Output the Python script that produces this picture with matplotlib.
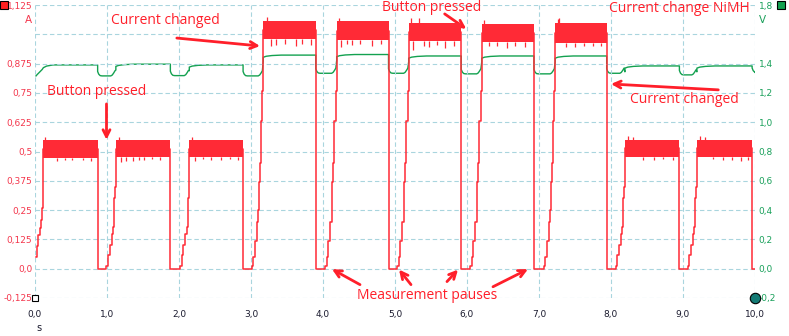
import numpy as np
import matplotlib
matplotlib.use("Agg")
import matplotlib.pyplot as plt

# ---- measured data -------------------------------------------------------
# time of each current drop (start of a measurement pause), s
drop_t = [0.87, 1.88, 2.89, 3.90, 4.91, 5.92, 6.93, 7.94, 8.95, 9.96]
# time the current starts to flow again after each pause, s
resume_t = [0.97, 1.99, 2.985, 4.005, 5.005, 6.02, 7.04, 8.04, 9.04]
# charge mode of each on-segment: low (~0.5 A) or high (~1.0 A)
seg_mode = ["low", "low", "low", "high", "high", "high", "high", "high", "low", "low"]
# noisy current band of each on-segment, A
band_top = [0.547, 0.547, 0.547, 1.055, 1.055, 1.050, 1.045, 1.047, 0.550, 0.550]
band_bot = [0.474, 0.478, 0.476, 0.978, 0.977, 0.972, 0.966, 0.964, 0.477, 0.477]

# current start-up at t = 0
start_t = [0.014, 0.023, 0.046, 0.069, 0.079, 0.093, 0.107, 0.116]
start_i = [0.052, 0.095, 0.145, 0.173, 0.209, 0.259, 0.400, 0.510]

# current ramp after a pause (time after resume, A)
low_ramp_dt = [0.0, 0.023, 0.046, 0.070, 0.093, 0.116, 0.130, 0.142, 0.153]
low_ramp_i = [0.0, 0.010, 0.060, 0.100, 0.150, 0.180, 0.300, 0.350, 0.510]
high_ramp_dt = [0.0, 0.025, 0.045, 0.065, 0.095, 0.115, 0.125, 0.135, 0.150, 0.170, 0.185]
high_ramp_i = [0.0, 0.010, 0.050, 0.120, 0.200, 0.250, 0.370, 0.450, 0.630, 0.760, 1.015]

# cell voltage: plateau during each on-segment and minimum in each pause, V
volt_plateau = [1.391, 1.396, 1.391, 1.458, 1.462, 1.452, 1.452, 1.452, 1.384, 1.384]
volt_dip = [1.316, 1.318, 1.316, 1.334, 1.334, 1.330, 1.330, 1.334, 1.323, 1.340]
volt_start_t = [0.014, 0.03, 0.07, 0.10, 0.116, 0.16, 0.25]
volt_start_v = [1.316, 1.325, 1.345, 1.360, 1.372, 1.383, 1.391]

# single spikes on the current band (time, A)
spike_t = [0.14, 0.30, 0.41, 0.52, 0.66, 0.78,
           1.16, 1.20, 1.27, 1.36, 1.45, 1.52, 1.63, 1.74,
           2.18, 2.22, 2.33, 2.45, 2.58, 2.71, 2.82,
           3.22, 3.28, 3.35, 3.47, 3.62, 3.71, 3.83,
           4.22, 4.25, 4.33, 4.40, 4.52, 4.68, 4.80,
           5.22, 5.25, 5.33, 5.40, 5.47, 5.58, 5.70, 5.82,
           6.24, 6.30, 6.42, 6.55, 6.66, 6.80,
           7.26, 7.28, 7.37, 7.50, 7.62, 7.75, 7.86,
           8.24, 8.30, 8.45, 8.60, 8.72, 8.86,
           9.24, 9.30, 9.42, 9.55, 9.68, 9.80, 9.90]
spike_v = [0.560, 0.460, 0.463, 0.462, 0.465, 0.461,
           0.562, 0.455, 0.458, 0.460, 0.463, 0.462, 0.466, 0.464,
           0.560, 0.458, 0.466, 0.462, 0.463, 0.466, 0.464,
           1.072, 0.948, 0.955, 0.958, 0.950, 0.960, 0.956,
           1.070, 0.945, 0.958, 0.955, 0.960, 0.952, 0.957,
           1.068, 0.935, 1.070, 0.950, 0.945, 0.955, 0.940, 0.952,
           1.062, 0.950, 0.948, 0.940, 0.952, 0.945,
           1.065, 1.070, 0.945, 0.945, 0.950, 0.948, 0.952,
           0.565, 0.560, 0.465, 0.462, 0.466, 0.463,
           0.565, 0.562, 0.466, 0.462, 0.465, 0.460, 0.464]

x_ticks = np.arange(0, 11, 1.0)
x_labels = ["0,0", "1,0", "2,0", "3,0", "4,0", "5,0", "6,0", "7,0", "8,0", "9,0", "10,0"]
a_ticks = np.arange(-0.125, 1.126, 0.125)
a_labels = ["-0,125", "0,0", "0,125", "0,25", "0,375", "0,5", "0,625", "0,75", "0,875",
            "", "1,125"]
v_ticks = np.arange(-0.2, 1.81, 0.2)
v_labels = ["-0,2", "0,0", "0,2", "0,4", "0,6", "0,8", "1,0", "1,2", "1,4", "", "1,8"]

RED = "#ff2a36"
GREEN = "#13a150"
TXT_RED = "#ff1f2a"
GRID = "#a9d5de"

# ---- build the traces ----------------------------------------------------
cur_t, cur_i = list(start_t), list(start_i)
seg_start = [start_t[-1]]
for k, r in enumerate(resume_t):
    mode = seg_mode[k + 1]
    dts = low_ramp_dt if mode == "low" else high_ramp_dt
    seg_start.append(r + dts[-1])

bands = []
for k in range(len(drop_t)):
    mid = 0.5 * (band_top[k] + band_bot[k])
    cur_t += [seg_start[k], drop_t[k], drop_t[k]]
    cur_i += [mid, mid, 0.0]
    bands.append((seg_start[k], drop_t[k]))
    if k < len(resume_t):
        mode = seg_mode[k + 1]
        dts = low_ramp_dt if mode == "low" else high_ramp_dt
        vals = low_ramp_i if mode == "low" else high_ramp_i
        for dt, v in zip(dts[:-1], vals[:-1]):
            cur_t.append(resume_t[k] + dt)
            cur_i.append(v)
cur_t.append(10.0)
cur_i.append(0.0)

volt_t, volt_v = list(volt_start_t), list(volt_start_v)
for k in range(len(drop_t)):
    d, p, m = drop_t[k], volt_plateau[k], volt_dip[k]
    volt_t += [d, d, d + 0.015, d + 0.035, d + 0.06]
    volt_v += [p, m + 0.03, m + 0.012, m + 0.002, m]
    if k + 1 < len(drop_t):
        b, n = seg_start[k + 1], volt_plateau[k + 1]
        volt_t += [b - 0.07, b - 0.05, b - 0.03, b - 0.012, b, b, b + 0.04, b + 0.12, b + 0.25]
        volt_v += [m, m + 0.006, m + 0.02, m + 0.035, n - 0.04, n - 0.015, n - 0.008,
                   n - 0.003, n]
volt_t.append(10.0)
volt_v.append(volt_dip[-1])

# ---- figure ----------------------------------------------------------------
fig = plt.figure(figsize=(7.89, 3.36), dpi=100)
ax = fig.add_axes([35 / 789, 1 - 298 / 336, 720 / 789, 293 / 336])
ax2 = ax.twinx()
ax.set_zorder(ax2.get_zorder() + 1)
ax.patch.set_visible(False)

ax.set_xlim(0, 10)
ax.set_ylim(-0.125, 1.125)
ax2.set_ylim(-0.2, 1.8)

for a in (ax, ax2):
    for s in a.spines.values():
        s.set_visible(False)

ax.set_xticks(x_ticks)
ax.set_xticklabels(x_labels)
ax.set_yticks(a_ticks)
ax.set_yticklabels(a_labels)
ax2.set_yticks(v_ticks)
ax2.set_yticklabels(v_labels)
ax.tick_params(axis="x", length=0, pad=9, labelsize=6.5, labelcolor="#1a1a2e")
ax.tick_params(axis="y", length=0, pad=2, labelsize=6.5, labelcolor="#f4364c")
ax2.tick_params(axis="y", length=0, pad=2.5, labelsize=6.5, labelcolor="#19a05a")
ax.grid(True, color=GRID, linestyle=(0, (4, 2.5)), linewidth=0.8)
ax.set_axisbelow(True)

# voltage trace
ax2.plot(volt_t, volt_v, color=GREEN, lw=1.0, zorder=3)

# current trace
ax.plot(cur_t, cur_i, color=RED, lw=1.1, zorder=4, drawstyle="steps-post")
for k, (t0, t1) in enumerate(bands):
    ax.fill_between([t0, t1], band_bot[k], band_top[k], color=RED, lw=0, zorder=4)
for t, v in zip(spike_t, spike_v):
    k = next(i for i, (t0, t1) in enumerate(bands) if t0 <= t <= t1)
    lo, hi = (v, band_bot[k]) if v < band_bot[k] else (band_top[k], v)
    ax.vlines(t, lo, hi, color=RED, lw=0.9, zorder=4)

# unit labels
ax.text(-0.004, 1.06, "A", transform=ax.get_yaxis_transform(), ha="right", va="center",
        fontsize=7.5, color="#f4364c")
ax.text(1.005, 1.06, "V", transform=ax.get_yaxis_transform(), ha="left", va="center",
        fontsize=7.5, color="#19a05a")
fig.text(39 / 789, 1 - 328 / 336, "s", ha="center", va="center", fontsize=7,
         color="#1a1a2e")

# cursor / channel markers
ax.plot([-0.043], [1.0], marker="s", ms=6, mfc="#ff2020", mec="black", mew=0.8,
        transform=ax.transAxes, clip_on=False, zorder=10)
ax.plot([0.0], [0.0], marker="s", ms=5, mfc="white", mec="black", mew=0.8,
        transform=ax.transAxes, clip_on=False, zorder=10)
ax.plot([1.036], [1.0], marker="s", ms=6, mfc="#13a150", mec="black", mew=0.8,
        transform=ax.transAxes, clip_on=False, zorder=10)
ax.plot([1.0], [0.0], marker="o", ms=7.5, mfc="#137a74", mec="black", mew=0.8,
        transform=ax.transAxes, clip_on=False, zorder=10)

# annotations
afont = dict(family="Open Sans", fontsize=10, color=TXT_RED)
arrow = dict(arrowstyle="->,head_length=0.5,head_width=0.25", color=TXT_RED, lw=2,
             shrinkA=0, shrinkB=0)

ax.text(1.81, 1.058, "Current changed", ha="center", va="center", **afont)
ax.annotate("", xy=(3.125, 0.950), xytext=(1.97, 0.984), arrowprops=arrow)

ax.text(0.854, 0.754, "Button pressed", ha="center", va="center", **afont)
ax.annotate("", xy=(0.993, 0.550), xytext=(0.993, 0.703), arrowprops=arrow)

ax.text(5.51, 1.116, "Button pressed", ha="center", va="center", **afont)
ax.annotate("", xy=(5.99, 1.023), xytext=(5.69, 1.087), arrowprops=arrow,
            annotation_clip=False)

ax.text(9.93, 1.108, "Current change NiMH", ha="right", va="center", **afont)

ax.text(9.02, 0.720, "Current changed", ha="center", va="center", **afont)
ax.annotate("", xy=(8.0, 0.788), xytext=(9.49, 0.763), arrowprops=arrow)

ax.text(5.45, -0.115, "Measurement pauses", ha="center", va="center", **afont)
for (hx, hy), (tx, ty) in [((4.125, -0.002), (4.514, -0.068)),
                           ((5.056, -0.004), (5.222, -0.068)),
                           ((5.875, -0.004), (5.722, -0.055)),
                           ((6.847, -0.002), (6.361, -0.077))]:
    ax.annotate("", xy=(hx, hy), xytext=(tx, ty), arrowprops=arrow,
                annotation_clip=False)

fig.savefig("out.png", dpi=100)
